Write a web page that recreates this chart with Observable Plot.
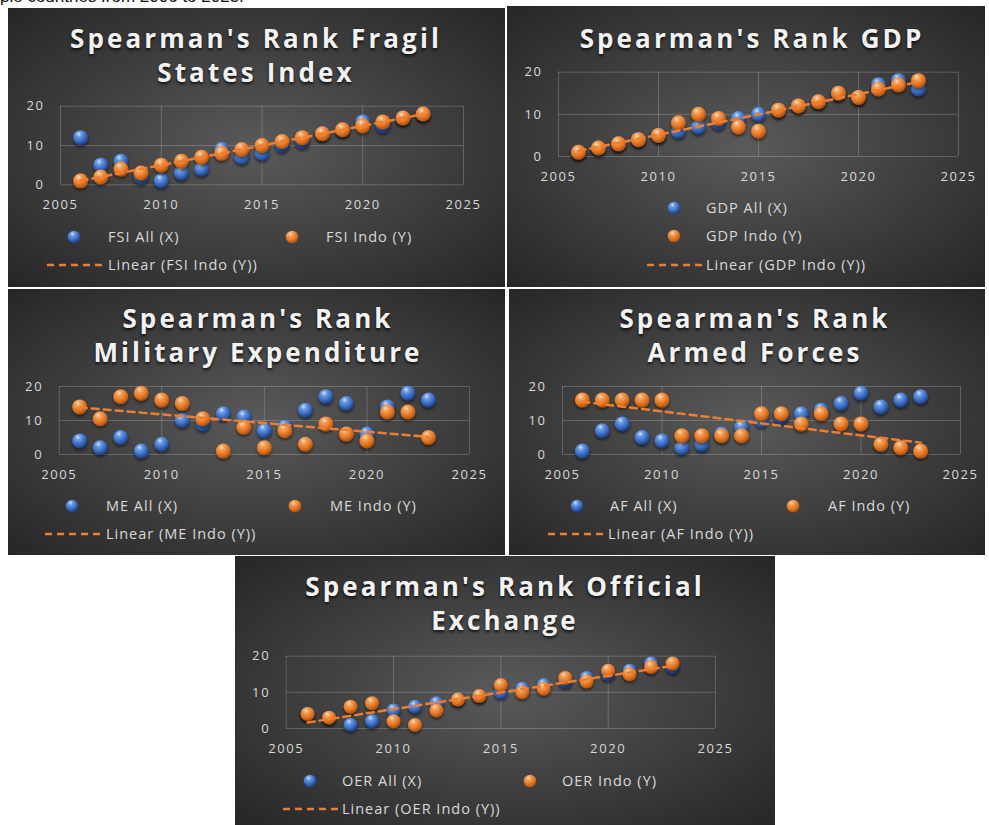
<!DOCTYPE html>
<html>
<head>
<meta charset="utf-8">
<script src="https://cdn.jsdelivr.net/npm/d3@7"></script>
<script src="https://cdn.jsdelivr.net/npm/@observablehq/plot@0.6"></script>
<style>
  html, body { margin: 0; padding: 0; background: #ffffff; }
  body { width: 989px; height: 825px; position: relative; overflow: hidden; font-family: "Open Sans", sans-serif; }
  .panel { position: absolute; overflow: hidden;
    background: radial-gradient(ellipse farthest-corner at 50% 50%, #5a5a5a 0%, #424242 45%, #262626 100%); }
  .panel svg.chart { position: absolute; left: 0; top: 0; }
  .tline { position: absolute; width: 640px; text-align: center; color: #f2f2f2; font-weight: 700;
    font-size: 26px; letter-spacing: 3.1px; white-space: nowrap;
    text-shadow: 0 2px 3px rgba(0,0,0,0.75); }
  .leg { position: absolute; color: #d9d9d9; font-size: 14.5px; letter-spacing: 1px; white-space: nowrap; line-height: 18px; }
  .legsym { position: absolute; }
  .toptext { position: absolute; left: 0; top: -13px; font-family: "Liberation Sans", Arial, sans-serif; font-size: 17px; color: #111; white-space: nowrap; }
</style>
</head>
<body>
<div class="toptext">ple countries from 2006 to 2023.</div>
<svg width="0" height="0" style="position:absolute;left:0;top:0">
  <defs>
    <radialGradient id="gBlue" cx="40%" cy="32%" r="68%" fx="38%" fy="25%">
      <stop offset="0%" stop-color="#d6e4ff"/>
      <stop offset="25%" stop-color="#6c9de8"/>
      <stop offset="70%" stop-color="#3565b8"/>
      <stop offset="100%" stop-color="#1d3c78"/>
    </radialGradient>
    <radialGradient id="gOrange" cx="40%" cy="32%" r="68%" fx="38%" fy="25%">
      <stop offset="0%" stop-color="#ffe0bd"/>
      <stop offset="25%" stop-color="#f7a15a"/>
      <stop offset="70%" stop-color="#e0711f"/>
      <stop offset="100%" stop-color="#a8500f"/>
    </radialGradient>
    <filter id="shadow" x="-50%" y="-50%" width="200%" height="200%">
      <feDropShadow dx="0" dy="2" stdDeviation="1.5" flood-color="#000" flood-opacity="0.55"/>
    </filter>
  </defs>
</svg>
<script>
// ---------------- data ----------------
const years = [2006, 2007, 2008, 2009, 2010, 2011, 2012, 2013, 2014, 2015, 2016, 2017, 2018, 2019, 2020, 2021, 2022, 2023];

const fsiAll  = [12, 5, 6, 2, 1, 3, 4, 9, 7, 8, 10, 11, 13, 14, 16, 15, 17, 18];
const fsiIndo = [1, 2, 4, 3, 5, 6, 7, 8, 9, 10, 11, 12, 13, 14, 15, 16, 17, 18];

const gdpAll  = [1, 2, 3, 4, 5, 6, 7, 8, 9, 10, 11, 12, 13, 15, 14, 17, 18, 16];
const gdpIndo = [1, 2, 3, 4, 5, 8, 10, 9, 7, 6, 11, 12, 13, 15, 14, 16, 17, 18];

const meAll  = [4, 2, 5, 1, 3, 10, 9, 12, 11, 7, 8, 13, 17, 15, 6, 14, 18, 16];
const meIndo = [14, 10.5, 17, 18, 16, 15, 10.5, 1, 8, 2, 7, 3, 9, 6, 4, 12.5, 12.5, 5];

const afAll  = [1, 7, 9, 5, 4, 2, 3, 6, 8, 10, 11, 12, 13, 15, 18, 14, 16, 17];
const afIndo = [16, 16, 16, 16, 16, 5.5, 5.5, 5.5, 5.5, 12, 12, 9, 12, 9, 9, 3, 2, 1];

const oerAll  = [4, 3, 1, 2, 5, 6, 7, 8, 9, 10, 11, 12, 13, 14, 15, 16, 18, 17];
const oerIndo = [4, 3, 6, 7, 2, 1, 5, 8, 9, 12, 10, 11, 14, 13, 16, 15, 17, 18];

const xTicks = [2005, 2010, 2015, 2020, 2025];
const yTicks = [0, 10, 20];

const titles = [
  ["Spearman's Rank Fragil", "States Index"],
  ["Spearman's Rank GDP"],
  ["Spearman's Rank", "Military Expenditure"],
  ["Spearman's Rank", "Armed Forces"],
  ["Spearman's Rank Official", "Exchange"]
];
const allLabels  = ["FSI All (X)", "GDP All (X)", "ME All (X)", "AF All (X)", "OER All (X)"];
const indoLabels = ["FSI Indo (Y)", "GDP Indo (Y)", "ME Indo (Y)", "AF Indo (Y)", "OER Indo (Y)"];
const trendLabels = ["Linear (FSI Indo (Y))", "Linear (GDP Indo (Y))", "Linear (ME Indo (Y))", "Linear (AF Indo (Y))", "Linear (OER Indo (Y))"];
const seriesAll  = [fsiAll, gdpAll, meAll, afAll, oerAll];
const seriesIndo = [fsiIndo, gdpIndo, meIndo, afIndo, oerIndo];

// ---------------- layout (absolute page pixels) ----------------
const layout = [
  { box: [8, 8, 497, 279],   frame: [60, 463, 105.7, 184.3], r: 7.5,
    title: { cx: 256, y: [39, 72.5] },
    leg: { all: [74, 237], indo: [292, 237], trend: [47, 265, 56] }, text: [108, 326, 108] },
  { box: [507, 6, 478, 281], frame: [558, 958, 71.7, 156], r: 7.5,
    title: { cx: 752, y: [38] },
    leg: { all: [674, 208], indo: [674, 236], trend: [647, 265, 56] }, text: [706, 706, 706] },
  { box: [8, 289, 497, 266], frame: [58.7, 469, 386, 454], r: 7.5,
    title: { cx: 258, y: [318, 352] },
    leg: { all: [72, 506], indo: [295, 506], trend: [45, 534, 56] }, text: [106, 330, 106] },
  { box: [509, 289, 476, 266], frame: [562, 960, 386, 454], r: 7.5,
    title: { cx: 755, y: [318, 352] },
    leg: { all: [577, 506], indo: [793, 506], trend: [548, 534, 56] }, text: [610, 828, 608] },
  { box: [235, 556, 540, 269], frame: [285.7, 715, 655.7, 728], r: 7,
    title: { cx: 505, y: [587, 620.5] },
    leg: { all: [310, 781], indo: [530, 781], trend: [283, 809, 55] }, text: [342, 562, 342] }
];

const ORANGE = "#ED7D31";

layout.forEach((L, i) => {
  const [bx, by, bw, bh] = L.box;
  const [fx0, fx1, fy0, fy1] = L.frame;
  const panel = document.createElement("div");
  panel.className = "panel";
  Object.assign(panel.style, { left: bx + "px", top: by + "px", width: bw + "px", height: bh + "px" });
  document.body.appendChild(panel);

  const data = years.map((yr, k) => ({ year: yr, all: seriesAll[i][k], indo: seriesIndo[i][k] }));

  const chart = Plot.plot({
    width: bw,
    height: bh,
    marginLeft: fx0 - bx,
    marginRight: bx + bw - fx1,
    marginTop: fy0 - by,
    marginBottom: by + bh - fy1,
    style: { background: "transparent", color: "#d9d9d9", fontFamily: "'Open Sans', sans-serif", fontSize: "13px", letterSpacing: "1.6px", overflow: "visible" },
    x: { domain: [2005, 2025], ticks: xTicks, tickFormat: "d", label: null, tickSize: 0, tickPadding: 15 },
    y: { domain: [0, 20], ticks: yTicks, label: null, tickSize: 0, tickPadding: 16 },
    marks: [
      Plot.ruleX(xTicks, { stroke: "#ffffff", strokeOpacity: 0.2 }),
      Plot.ruleY(yTicks, { stroke: "#ffffff", strokeOpacity: 0.2 }),
      Plot.dot(data, { x: "year", y: "all", r: L.r, fill: "url(#gBlue)", stroke: "none" }),
      Plot.dot(data, { x: "year", y: "indo", r: L.r, fill: "url(#gOrange)", stroke: "none" }),
      Plot.linearRegressionY(data, { x: "year", y: "indo", ci: 0, stroke: ORANGE, strokeWidth: 2.5, strokeDasharray: "7,5" })
    ]
  });
  chart.classList.add("chart");
  d3.select(chart).selectAll("circle").attr("filter", "url(#shadow)");
  panel.appendChild(chart);

  // title: one block, lines separated by <br>
  const ys = L.title.y;
  const lh = ys.length > 1 ? ys[1] - ys[0] : 34;
  const td = document.createElement("div");
  td.className = "tline";
  titles[i].forEach((t, j) => {
    if (j > 0) td.appendChild(document.createElement("br"));
    td.appendChild(document.createTextNode(t));
  });
  td.style.lineHeight = lh + "px";
  td.style.left = (L.title.cx - bx - 320) + "px";
  td.style.top = (ys[0] - by - lh / 2) + "px";
  panel.appendChild(td);

  // legend
  const addDot = (pos, gid) => {
    const s = d3.create("svg").attr("class", "legsym").attr("width", 16).attr("height", 16)
      .style("left", (pos[0] - bx - 8) + "px").style("top", (pos[1] - by - 8) + "px");
    s.append("circle").attr("cx", 8).attr("cy", 8).attr("r", 6.3).attr("fill", `url(#${gid})`);
    panel.appendChild(s.node());
  };
  const addText = (x, y, t) => {
    const d = document.createElement("div");
    d.className = "leg";
    d.textContent = t;
    d.style.left = (x - bx) + "px";
    d.style.top = (y - by - 9) + "px";
    panel.appendChild(d);
  };
  addDot(L.leg.all, "gBlue");
  addText(L.text[0], L.leg.all[1], allLabels[i]);
  addDot(L.leg.indo, "gOrange");
  addText(L.text[1], L.leg.indo[1], indoLabels[i]);
  const [tx, ty, tw] = L.leg.trend;
  const ls = d3.create("svg").attr("class", "legsym").attr("width", tw).attr("height", 6)
    .style("left", (tx - bx) + "px").style("top", (ty - by - 3) + "px");
  ls.append("line").attr("x1", 0).attr("x2", tw).attr("y1", 3).attr("y2", 3)
    .attr("stroke", ORANGE).attr("stroke-width", 2.5).attr("stroke-dasharray", "7,5");
  panel.appendChild(ls.node());
  addText(L.text[2], ty, trendLabels[i]);
});
</script>
</body>
</html>
